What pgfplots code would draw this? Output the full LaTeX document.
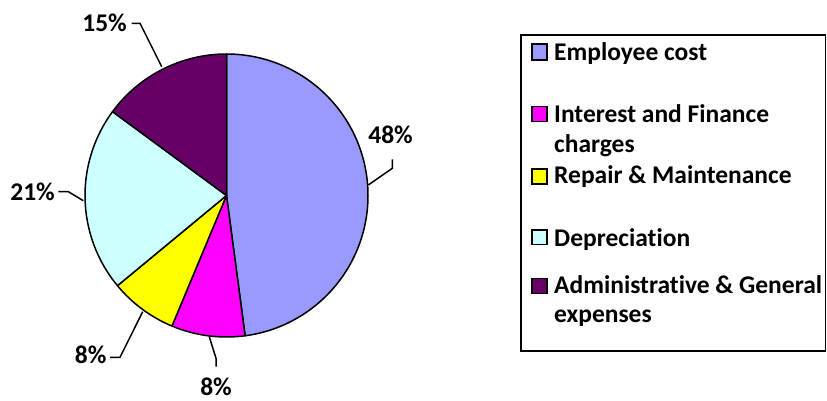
\documentclass[border=0pt]{standalone}
\usepackage{pgfplots}
\pgfplotsset{compat=1.18}
\usepackage{fontspec}
\setmainfont[Ligatures=NoCommon]{Carlito}
\definecolor{empcol}{HTML}{9999FF}
\definecolor{intcol}{HTML}{FF00FF}
\definecolor{repcol}{HTML}{FFFF00}
\definecolor{depcol}{HTML}{CCFFFF}
\definecolor{admcol}{HTML}{660066}
\begin{document}
\begin{tikzpicture}
\path[use as bounding box] (0,0) rectangle (827bp,401bp);
\begin{axis}[x=1bp,y=1bp,xmin=0,xmax=827,ymin=0,ymax=401,
  hide axis,clip=false,at={(0,0)},anchor=south west]
\def\cx{226.5}
\def\cy{205.5}
\def\rr{141.5}
\gdef\startang{90}
% shares in percent: Employee cost, Interest and Finance charges, Repair & Maintenance, Depreciation, Administrative & General expenses
\foreach \v/\c in {47.9/empcol,8.4/intcol,7.7/repcol,21.1/depcol,14.9/admcol}{
  \pgfmathsetmacro\endang{\startang-3.6*\v}
  \pgfmathsetmacro\xa{\cx+\rr*cos(\startang)}
  \pgfmathsetmacro\ya{\cy+\rr*sin(\startang)}
  \edef\temp{\noexpand\filldraw[fill=\c,draw=black,line width=1.5bp,line join=round]
    (axis cs:\cx,\cy) -- (axis cs:\xa,\ya) arc[start angle=\startang,end angle=\endang,radius=\rr bp] -- cycle;}
  \temp
  \global\let\startang\endang
}
% data labels and leader lines
\tikzset{lbl/.style={font=\fontsize{25.5bp}{30bp}\selectfont\bfseries,inner sep=0pt,anchor=base east}}
\node[lbl] at (axis cs:413,257.7) {48\%};
\draw[line width=1.5bp] (axis cs:392.3,241.7) -- (axis cs:392.3,232.7) -- (axis cs:368.3,216);
\node[lbl] at (axis cs:232,5) {8\%};
\draw[line width=1.5bp] (axis cs:216,34.3) -- (axis cs:216,42.7) -- (axis cs:209.3,64.3);
\node[lbl] at (axis cs:106.7,37.7) {8\%};
\draw[line width=1.5bp] (axis cs:110,43.7) -- (axis cs:120,43.7) -- (axis cs:142.7,89.3);
\node[lbl] at (axis cs:55,200.3) {21\%};
\draw[line width=1.5bp] (axis cs:58.3,209.3) -- (axis cs:68.3,209.3) -- (axis cs:83.3,200.3);
\node[lbl] at (axis cs:127,369) {15\%};
\draw[line width=1.5bp] (axis cs:131.7,377.7) -- (axis cs:140,377.7) -- (axis cs:161.7,334.3);
% legend
\draw[line width=1.5bp] (axis cs:521,50) rectangle (axis cs:825.5,366);
\tikzset{leg/.style={font=\fontsize{25.5bp}{30bp}\selectfont\bfseries,inner sep=0pt,anchor=base west}}
\filldraw[fill=empcol,draw=black,line width=1.5bp] (axis cs:532,341) rectangle (axis cs:547,357);
\node[leg] at (axis cs:554,340) {Employee cost};
\filldraw[fill=intcol,draw=black,line width=1.5bp] (axis cs:532,279.3) rectangle (axis cs:547,294.3);
\node[leg] at (axis cs:554,278.7) {Interest and Finance};
\node[leg] at (axis cs:554,248.3) {charges};
\filldraw[fill=repcol,draw=black,line width=1.5bp] (axis cs:532,217) rectangle (axis cs:547,232);
\node[leg] at (axis cs:554,217) {Repair \& Maintenance};
\filldraw[fill=depcol,draw=black,line width=1.5bp] (axis cs:532,156.7) rectangle (axis cs:547,171);
\node[leg] at (axis cs:554,154.3) {Depreciation};
\filldraw[fill=admcol,draw=black,line width=1.5bp] (axis cs:532,107.7) rectangle (axis cs:547,122.7);
\node[leg] at (axis cs:554,107.7) {Administrative \& General};
\node[leg] at (axis cs:554,78) {expenses};
\end{axis}
\end{tikzpicture}
\end{document}
